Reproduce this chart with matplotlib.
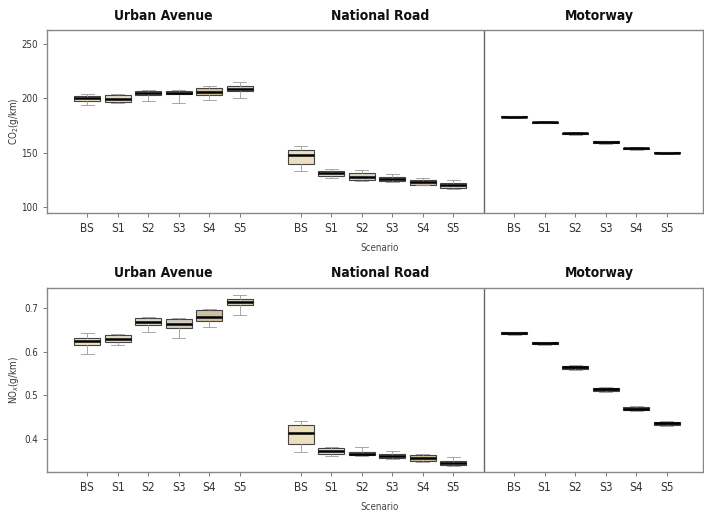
import numpy as np
import matplotlib
matplotlib.use("Agg")
import matplotlib.pyplot as plt
import matplotlib.transforms as mtransforms

plt.rcParams['font.family'] = ['DejaVu Sans']
plt.rcParams['font.stretch'] = 'condensed'

scenarios = ['BS', 'S1', 'S2', 'S3', 'S4', 'S5']
roads = ['Urban Avenue', 'National Road', 'Motorway']

# CO2 (g/km) box summaries, per road: BS..S5
co2_med = [[200, 199.5, 205, 205, 206, 209],
           [148.4, 131, 128, 126, 123, 120],
           [183, 178, 167.8, 159.8, 154, 150]]
co2_q1 = [[198, 197, 203, 204, 203, 206.5],
          [140, 128.5, 125.4, 124, 120.8, 117.8],
          [182.5, 177.5, 167, 159, 153.5, 149.5]]
co2_q3 = [[202, 203, 207, 207, 210, 211],
          [153, 133, 131, 128, 125.4, 122.4],
          [183.5, 178.5, 168.5, 160.5, 154.5, 150.5]]
co2_lo = [[193.5, 196, 197.5, 196, 199, 200],
          [133, 127, 124, 123, 120, 117],
          [182, 177, 166.5, 158.5, 153, 149]]
co2_hi = [[204, 204, 208, 208, 211, 214.7],
          [156, 135.2, 133.7, 130.6, 126.5, 125.4],
          [184, 179, 169, 161, 155, 151]]

# NOx (g/km) box summaries
nox_med = [[0.6245, 0.629, 0.668, 0.663, 0.680, 0.714],
           [0.413, 0.372, 0.367, 0.361, 0.357, 0.345],
           [0.642, 0.619, 0.564, 0.514, 0.470, 0.436]]
nox_q1 = [[0.615, 0.621, 0.661, 0.655, 0.669, 0.707],
          [0.390, 0.365, 0.364, 0.356, 0.350, 0.341],
          [0.640, 0.617, 0.560, 0.510, 0.467, 0.433]]
nox_q3 = [[0.632, 0.638, 0.678, 0.675, 0.695, 0.720],
          [0.432, 0.379, 0.371, 0.365, 0.364, 0.350],
          [0.644, 0.621, 0.567, 0.517, 0.473, 0.439]]
nox_lo = [[0.594, 0.615, 0.644, 0.631, 0.657, 0.684],
          [0.371, 0.362, 0.362, 0.354, 0.348, 0.339],
          [0.638, 0.615, 0.557, 0.507, 0.465, 0.431]]
nox_hi = [[0.642, 0.640, 0.680, 0.678, 0.698, 0.730],
          [0.442, 0.383, 0.381, 0.373, 0.367, 0.360],
          [0.646, 0.623, 0.570, 0.520, 0.475, 0.441]]

co2_ticks = [100, 150, 200, 250]
nox_ticks = [0.4, 0.5, 0.6, 0.7]

box_face = ['#ecdfc0', '#e4dcc8', '#d8d4c8', '#d0ccc0', '#cfc0a0', '#d8d0c0']


def draw_row(ax, med, q1, q3, lo, hi, ylim, yticks, ylabel):
    offsets = [0, 7, 14]
    for g in range(3):
        stats = []
        for i in range(6):
            stats.append(dict(med=med[g][i], q1=q1[g][i], q3=q3[g][i],
                              whislo=lo[g][i], whishi=hi[g][i], fliers=[]))
        pos = [offsets[g] + i for i in range(6)]
        bp = ax.bxp(stats, positions=pos, widths=0.85, patch_artist=True,
                    showfliers=False, showcaps=True,
                    boxprops=dict(edgecolor='#444444', linewidth=0.8),
                    medianprops=dict(color='black', linewidth=1.8),
                    whiskerprops=dict(color='#999999', linewidth=0.6),
                    capprops=dict(color='#999999', linewidth=0.6))
        for i, b in enumerate(bp['boxes']):
            b.set_facecolor('#555555' if g == 2 else box_face[i])
    ax.set_xlim(-1.32, 20.2)
    ax.set_ylim(*ylim)
    ax.set_yticks(yticks)
    ax.set_yticklabels([str(t) for t in yticks], fontsize=7, color='#333333')
    ax.set_xticks([o + i for o in offsets for i in range(6)])
    ax.set_xticklabels(scenarios * 3, fontsize=8.5, color='#333333')
    ax.tick_params(length=3, color='#666666', width=0.6)
    for s in ax.spines.values():
        s.set_color('#888888')
        s.set_linewidth(1.0)
    ax.axvline(13, color='#666666', linewidth=1.0)
    ax.set_ylabel(ylabel, fontsize=7, color='#333333')
    ax.yaxis.set_label_coords(-0.04, 0.5)
    trans = mtransforms.blended_transform_factory(ax.transData, ax.transAxes)
    for name, cx in zip(roads, [2.5, 9.6, 16.8]):
        ax.text(cx, 1.04, name, transform=trans, ha='center', va='bottom',
                fontsize=10, fontweight='bold', color='#111111')
    ax.text(9.6, -0.165, 'Scenario', transform=trans, ha='center', va='top',
            fontsize=7, color='#444444')


fig = plt.figure(figsize=(7.04, 5.16), dpi=100)
ax1 = fig.add_axes([0.0668, 0.587, 0.932, 0.355])
ax2 = fig.add_axes([0.0668, 0.0853, 0.932, 0.357])

draw_row(ax1, co2_med, co2_q1, co2_q3, co2_lo, co2_hi, (94.5, 263), co2_ticks,
         'CO$_2$(g/km)')
draw_row(ax2, nox_med, nox_q1, nox_q3, nox_lo, nox_hi, (0.325, 0.746), nox_ticks,
         'NO$_x$(g/km)')

fig.savefig('out.png', dpi=100)
